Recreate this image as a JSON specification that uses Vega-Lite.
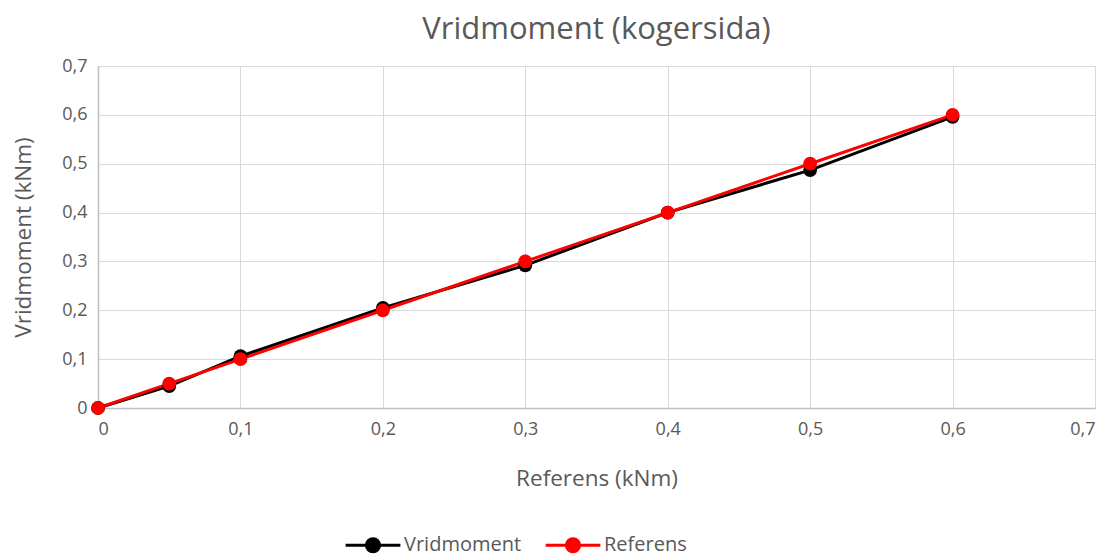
{
  "$schema": "https://vega.github.io/schema/vega-lite/v6.json",
  "width": 997,
  "height": 342,
  "autosize": {"type": "none"},
  "padding": {"left": 98, "top": 66, "right": 19, "bottom": 151},
  "background": "white",
  "title": {"text": "Vridmoment (kogersida)", "font": "Open Sans", "fontSize": 31, "fontWeight": "normal", "color": "#595959", "offset": 11, "anchor": "middle"},
  "config": {
    "view": {"stroke": null},
    "axis": {"labelFont": "Open Sans", "titleFont": "Open Sans", "labelColor": "#595959", "titleColor": "#595959", "labelFontSize": 18, "titleFontSize": 22.5, "titleFontWeight": "normal", "gridColor": "#d9d9d9", "domainColor": "#bfbfbf", "ticks": false, "domainWidth": 1.5}
  },
  "data": {"values": [
    {"x": 0, "y": 0, "s": "Vridmoment"},
    {"x": 0.05, "y": 0.045, "s": "Vridmoment"},
    {"x": 0.1, "y": 0.106, "s": "Vridmoment"},
    {"x": 0.2, "y": 0.205, "s": "Vridmoment"},
    {"x": 0.3, "y": 0.292, "s": "Vridmoment"},
    {"x": 0.4, "y": 0.4, "s": "Vridmoment"},
    {"x": 0.5, "y": 0.487, "s": "Vridmoment"},
    {"x": 0.6, "y": 0.596, "s": "Vridmoment"},
    {"x": 0, "y": 0, "s": "Referens"},
    {"x": 0.05, "y": 0.05, "s": "Referens"},
    {"x": 0.1, "y": 0.1, "s": "Referens"},
    {"x": 0.2, "y": 0.2, "s": "Referens"},
    {"x": 0.3, "y": 0.3, "s": "Referens"},
    {"x": 0.4, "y": 0.4, "s": "Referens"},
    {"x": 0.5, "y": 0.5, "s": "Referens"},
    {"x": 0.6, "y": 0.6, "s": "Referens"}
  ]},
  "mark": {"type": "line", "strokeWidth": 3, "point": {"size": 190, "opacity": 1, "filled": true}},
  "encoding": {
    "x": {"field": "x", "type": "quantitative", "scale": {"domain": [0, 0.7], "nice": false}, "axis": {"values": [0, 0.1, 0.2, 0.3, 0.4, 0.5, 0.6, 0.7], "title": "Referens (kNm)", "labelPadding": 12, "titlePadding": 29, "labelExpr": "datum.value == 0 ? '0' : replace(format(datum.value, '.1f'), '.', ',')"}},
    "y": {"field": "y", "type": "quantitative", "scale": {"domain": [0, 0.7], "nice": false}, "axis": {"values": [0, 0.1, 0.2, 0.3, 0.4, 0.5, 0.6, 0.7], "title": "Vridmoment (kNm)", "labelPadding": 11, "titlePadding": 26, "domain": true, "labelExpr": "datum.value == 0 ? '0' : replace(format(datum.value, '.1f'), '.', ',')"}},
    "color": {"field": "s", "type": "nominal", "scale": {"domain": ["Vridmoment", "Referens"], "range": ["#000000", "#ff0000"]}, "legend": {"title": null, "orient": "none", "legendX": 246, "legendY": 450, "direction": "horizontal", "symbolType": "M-1,0H1M0.24,0A0.24,0.24,0,1,1,-0.24,0A0.24,0.24,0,1,1,0.24,0", "symbolSize": 3000, "symbolStrokeWidth": 3, "labelFont": "Open Sans", "labelFontSize": 20, "labelColor": "#595959", "labelOffset": 2, "columnPadding": 17}},
    "order": {"field": "x", "type": "quantitative"}
  }
}
